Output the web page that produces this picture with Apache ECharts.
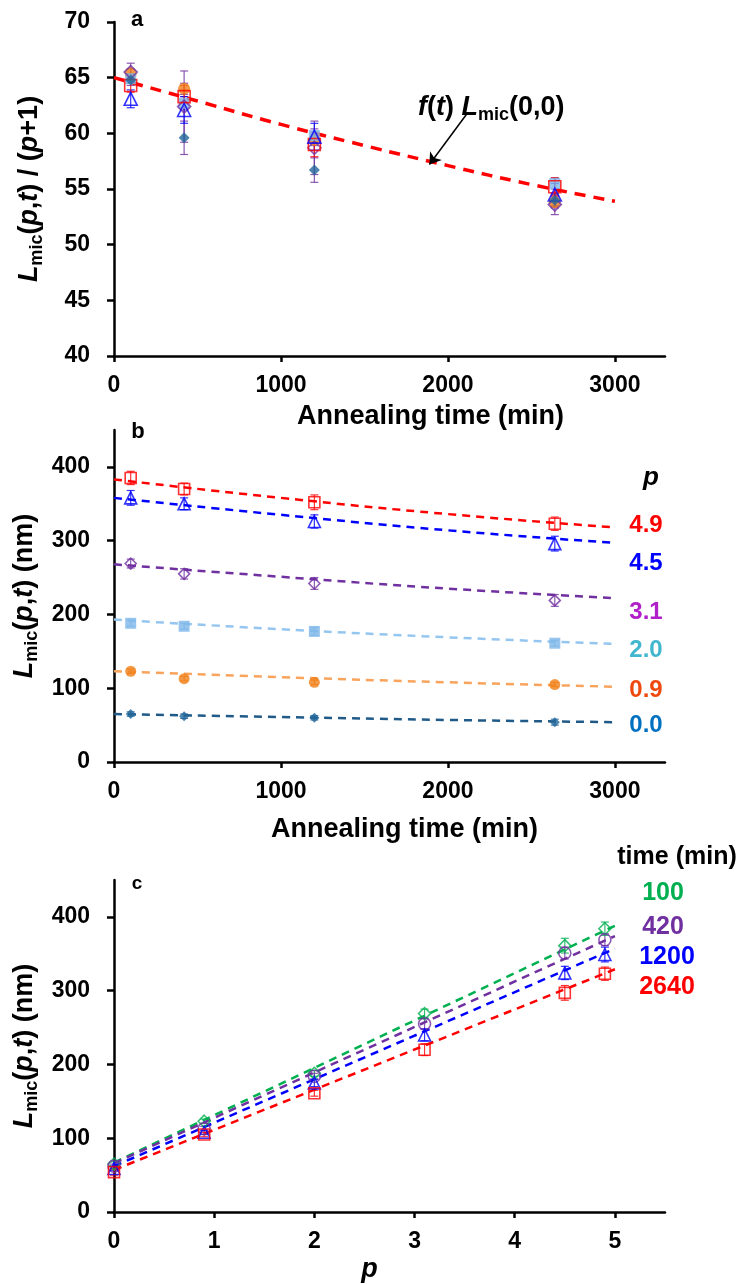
<!DOCTYPE html>
<html>
<head>
<meta charset="utf-8">
<script src="https://cdn.jsdelivr.net/npm/echarts@6/dist/echarts.min.js"></script>
<style>
  html, body { margin: 0; padding: 0; background: #fff; }
  #main { width: 739px; height: 1284px; }
</style>
</head>
<body>
<div id="main"></div>
<script>
// annealing times (min) and composition p
var times = [100, 420, 1200, 2640];
var pVals = [0, 0.9, 2.0, 3.1, 4.5, 4.9];

// panel a : Lmic(p,t)/(p+1)
var a_p00 = [64.8, 59.6, 56.7, 54.0];
var a_p09 = [65.4, 64.0, 59.4, 53.8];
var a_p20 = [64.9, 62.7, 59.8, 55.5];
var a_p31 = [65.5, 62.4, 58.7, 53.6];
var a_p45 = [63.1, 62.1, 59.7, 54.5];
var a_p49 = [64.3, 63.3, 59.0, 55.2];
var ea_p00 = [0.5, 1.5, 1.1, 0.6];
var ea_p09 = [0.4, 0.5, 0.5, 0.5];
var ea_p20 = [0.4, 0.6, 0.6, 0.5];
var ea_p31 = [0.8, 3.2, 2.4, 0.9];
var ea_p45 = [0.8, 1.2, 1.2, 1.0];
var ea_p49 = [0.6, 1.0, 1.1, 0.8];
// f(t) Lmic(0,0) curve
var fitT = [0, 500, 1000, 1500, 2000, 2500, 3000];
var fitA = [65.0, 62.9, 60.8, 58.9, 57.1, 55.4, 53.9];

// panel b : Lmic(p,t) in nm
var b_p00 = [65, 62, 60, 54];
var b_p09 = [123, 113, 108, 105];
var b_p20 = [188, 184, 177, 161];
var b_p31 = [269, 255, 242, 219];
var b_p45 = [358, 350, 326, 296];
var b_p49 = [385, 370, 352, 323];
var eb_p00 = [3, 3, 3, 4];
var eb_p09 = [3, 3, 3, 3];
var eb_p20 = [4, 4, 5, 4];
var eb_p31 = [6, 7, 8, 8];
var eb_p45 = [10, 8, 9, 10];
var eb_p49 = [9, 8, 10, 9];
var fitTb = [0, 1000, 2000, 3000];
var fb_p00 = [65, 61, 57, 54];
var fb_p09 = [123, 115, 108, 102];
var fb_p20 = [193, 180, 169, 160];
var fb_p31 = [268, 251, 235, 222];
var fb_p45 = [358, 335, 314, 297];
var fb_p49 = [383, 358, 336, 318];

// panel c : Lmic(p,t) vs p
var c_t100 = [65, 123, 188, 269, 361, 384];
var c_t420 = [62, 113, 184, 255, 351, 369];
var c_t1200 = [59, 108, 175, 240, 324, 349];
var c_t2640 = [54, 105, 161, 220, 297, 323];
var ec_t100 = [3, 3, 4, 6, 10, 9];
var ec_t420 = [3, 3, 4, 7, 8, 8];
var ec_t1200 = [3, 3, 5, 8, 9, 10];
var ec_t2640 = [4, 3, 4, 8, 10, 9];
var fitP = [0, 5];
var fc_t100 = [67, 388];
var fc_t420 = [66, 374];
var fc_t1200 = [62, 357];
var fc_t2640 = [57, 329];

var FONT = 'Liberation Sans, Arial, sans-serif';

function pts(xs, ys) {
  return xs.map(function (x, i) { return [x, ys[i]]; });
}

function markers(idx, xs, ys, sym, size, color, open) {
  return {
    type: 'scatter', xAxisIndex: idx, yAxisIndex: idx, z: 4,
    data: pts(xs, ys), symbol: sym, symbolSize: size,
    itemStyle: open
      ? { color: 'rgba(255,255,255,0)', borderColor: color, borderWidth: 1.6 }
      : { color: color }
  };
}

function fitLine(idx, xs, ys, color, width, dash, smooth) {
  return {
    type: 'line', xAxisIndex: idx, yAxisIndex: idx, z: 3,
    data: pts(xs, ys), symbol: 'none', smooth: smooth || false,
    lineStyle: { color: color, width: width, type: dash }
  };
}

// error bars drawn with a custom series
function errBars(idx, xs, ys, es, color) {
  return {
    type: 'custom', xAxisIndex: idx, yAxisIndex: idx, z: 2, silent: true,
    data: xs.map(function (x, i) { return [x, ys[i] - es[i], ys[i] + es[i]]; }),
    encode: { x: 0, y: [1, 2] },
    renderItem: function (params, api) {
      var lo = api.coord([api.value(0), api.value(1)]);
      var hi = api.coord([api.value(0), api.value(2)]);
      var w = 4;
      var st = { stroke: color, lineWidth: 1.2, opacity: 0.8 };
      return {
        type: 'group',
        children: [
          { type: 'line', shape: { x1: lo[0], y1: lo[1], x2: hi[0], y2: hi[1] }, style: st },
          { type: 'line', shape: { x1: lo[0] - w, y1: lo[1], x2: lo[0] + w, y2: lo[1] }, style: st },
          { type: 'line', shape: { x1: hi[0] - w, y1: hi[1], x2: hi[0] + w, y2: hi[1] }, style: st }
        ]
      };
    }
  };
}

var nameRich = {
  n: { fontSize: 27, fontWeight: 'bold', fontFamily: FONT, color: '#000', lineHeight: 32 },
  i: { fontSize: 27, fontWeight: 'bold', fontStyle: 'italic', fontFamily: FONT, color: '#000', lineHeight: 32 },
  s: { fontSize: 18, fontWeight: 'bold', fontFamily: FONT, color: '#000', lineHeight: 16, verticalAlign: 'bottom' }
};

function plain(v) { return String(v); }

function xAxisDef(idx, max, ticks, name, gap, pad, italic) {
  return {
    gridIndex: idx, type: 'value', min: 0, max: max,
    name: name, nameLocation: 'middle', nameGap: gap,
    nameTextStyle: {
      fontSize: 27, fontWeight: 'bold', fontFamily: FONT, color: '#000',
      fontStyle: italic ? 'italic' : 'normal', padding: pad
    },
    splitLine: { show: false },
    axisLine: { onZero: false, lineStyle: { color: '#000', width: 2.5 } },
    axisTick: { customValues: ticks, length: 6, lineStyle: { color: '#000', width: 2.5 } },
    axisLabel: { customValues: ticks, formatter: plain, margin: 18, color: '#000', fontSize: 23, fontWeight: 'bold', fontFamily: FONT }
  };
}

function yAxisDef(idx, min, max, ticks, name, gap) {
  return {
    gridIndex: idx, type: 'value', min: min, max: max,
    name: name, nameLocation: 'middle', nameGap: gap, nameRotate: 90,
    nameTextStyle: { rich: nameRich },
    splitLine: { show: false },
    axisLine: { onZero: false, lineStyle: { color: '#000', width: 2.5 } },
    axisTick: { customValues: ticks, length: 7, lineStyle: { color: '#000', width: 2.5 } },
    axisLabel: { customValues: ticks, formatter: plain, margin: 24, color: '#000', fontSize: 23, fontWeight: 'bold', fontFamily: FONT }
  };
}

var C = {
  p00: '#22669A', p00l: '#1F5A88',
  p09: '#F07F18', p09l: '#F8A45C',
  p20: '#7DB6E8', p20l: '#95C6F0',
  p31: '#7030A0',
  p45: '#0000FF',
  p49: '#FF0000',
  green: '#00B050'
};

var series = [
  // ---- panel a
  fitLine(0, fitT, fitA, '#FF0000', 3.5, [11, 8], true),
  errBars(0, times, a_p00, ea_p00, C.p31),
  errBars(0, times, a_p09, ea_p09, C.p31),
  errBars(0, times, a_p20, ea_p20, C.p31),
  errBars(0, times, a_p31, ea_p31, C.p31),
  errBars(0, times, a_p45, ea_p45, C.p45),
  errBars(0, times, a_p49, ea_p49, C.p49),
  markers(0, times, a_p09, 'circle', 12, C.p09, false),
  markers(0, times, a_p20, 'rect', 11, C.p20, false),
  markers(0, times, a_p31, 'diamond', 13, C.p31, true),
  markers(0, times, a_p49, 'rect', 12, C.p49, true),
  markers(0, times, a_p45, 'triangle', 13, C.p45, true),
  markers(0, times, a_p00, 'diamond', 11, C.p00, false),

  // ---- panel b
  fitLine(1, fitTb, fb_p00, C.p00l, 2.5, [8, 6], true),
  fitLine(1, fitTb, fb_p09, C.p09l, 2.5, [8, 6], true),
  fitLine(1, fitTb, fb_p20, C.p20l, 2.5, [8, 6], true),
  fitLine(1, fitTb, fb_p31, C.p31, 2.5, [8, 6], true),
  fitLine(1, fitTb, fb_p45, C.p45, 2.5, [8, 6], true),
  fitLine(1, fitTb, fb_p49, C.p49, 2.5, [8, 6], true),
  errBars(1, times, b_p00, eb_p00, C.p00),
  errBars(1, times, b_p09, eb_p09, C.p09),
  errBars(1, times, b_p20, eb_p20, C.p20),
  errBars(1, times, b_p31, eb_p31, C.p31),
  errBars(1, times, b_p45, eb_p45, C.p45),
  errBars(1, times, b_p49, eb_p49, C.p49),
  markers(1, times, b_p00, 'diamond', 10, C.p00, false),
  markers(1, times, b_p09, 'circle', 11, C.p09, false),
  markers(1, times, b_p20, 'rect', 11, C.p20, false),
  markers(1, times, b_p31, 'diamond', 11, C.p31, true),
  markers(1, times, b_p45, 'triangle', 12, C.p45, true),
  markers(1, times, b_p49, 'rect', 11, C.p49, true),

  // ---- panel c
  fitLine(2, fitP, fc_t100, C.green, 2.5, [8, 6]),
  fitLine(2, fitP, fc_t420, C.p31, 2.5, [8, 6]),
  fitLine(2, fitP, fc_t1200, C.p45, 2.5, [8, 6]),
  fitLine(2, fitP, fc_t2640, C.p49, 2.5, [8, 6]),
  errBars(2, pVals, c_t100, ec_t100, C.green),
  errBars(2, pVals, c_t420, ec_t420, C.p31),
  errBars(2, pVals, c_t1200, ec_t1200, C.p45),
  errBars(2, pVals, c_t2640, ec_t2640, C.p49),
  markers(2, pVals, c_t100, 'diamond', 12, C.green, true),
  markers(2, pVals, c_t420, 'circle', 12, C.p31, true),
  markers(2, pVals, c_t1200, 'triangle', 12, C.p45, true),
  markers(2, pVals, c_t2640, 'rect', 11, C.p49, true)
];

// arrow pointing at the f(t) curve
series[0].markLine = {
  silent: true, symbol: ['none', 'arrow'], symbolSize: 11,
  label: { show: false },
  lineStyle: { type: 'solid', color: '#000', width: 1.5 },
  data: [[{ coord: [2116, 61.8] }, { coord: [1889, 57.2] }]]
};

function txt(x, y, text, color, size, style, align) {
  return {
    type: 'text', x: x, y: y, z: 10,
    style: {
      text: text, fill: color, fontSize: size, fontWeight: 'bold',
      fontStyle: style || 'normal', fontFamily: FONT,
      align: align || 'center', verticalAlign: 'middle'
    }
  };
}

var graphics = [
  txt(137, 20, 'a', '#000', 22),
  txt(138, 432, 'b', '#000', 22),
  txt(137, 884, 'c', '#000', 19),
  {
    type: 'text', x: 418, y: 108, z: 10,
    style: {
      text: '{i|f}{n|(}{i|t}{n|) }{i|L}{s|mic}{n|(0,0)}',
      rich: nameRich, align: 'left', verticalAlign: 'middle'
    }
  },
  txt(651, 478, 'p', '#000', 26, 'italic'),
  txt(646, 525, '4.9', '#FF0000', 24),
  txt(646, 563, '4.5', '#0000FF', 24),
  txt(646, 612, '3.1', '#B01FC8', 24),
  txt(646, 650, '2.0', '#41B6CF', 24),
  txt(646, 690, '0.9', '#EE4A10', 24),
  txt(646, 725, '0.0', '#0070C0', 24),
  txt(677, 857, 'time (min)', '#000', 25),
  txt(663, 893, '100', C.green, 25),
  txt(663, 927, '420', C.p31, 25),
  txt(667, 957, '1200', '#0000FF', 25),
  txt(667, 987, '2640', '#FF0000', 25)
];

var option = {
  backgroundColor: '#fff',
  animation: false,
  grid: [
    { left: 114, top: 22, width: 551, height: 334 },
    { left: 114, top: 430, width: 551, height: 332 },
    { left: 114, top: 880, width: 551, height: 332 }
  ],
  xAxis: [
    xAxisDef(0, 3300, [0, 1000, 2000, 3000], 'Annealing time (min)', 47, [0, 0, 0, 82]),
    xAxisDef(1, 3300, [0, 1000, 2000, 3000], 'Annealing time (min)', 54, [0, 0, 0, 30]),
    xAxisDef(2, 5.5, [0, 1, 2, 3, 4, 5], 'p', 44, [0, 40, 0, 0], true)
  ],
  yAxis: [
    yAxisDef(0, 40, 70, [40, 45, 50, 55, 60, 65, 70], '{i|L}{s|mic}{n|(}{i|p}{n|,}{i|t}{n|) / (}{i|p}{n|+1)}', 68),
    yAxisDef(1, 0, 450, [0, 100, 200, 300, 400], '{i|L}{s|mic}{n|(}{i|p}{n|,}{i|t}{n|) (nm)}', 65),
    yAxisDef(2, 0, 450, [0, 100, 200, 300, 400], '{i|L}{s|mic}{n|(}{i|p}{n|,}{i|t}{n|) (nm)}', 65)
  ],
  graphic: graphics,
  series: series
};

var chart = echarts.init(document.getElementById('main'));
chart.setOption(option);
</script>
</body>
</html>
